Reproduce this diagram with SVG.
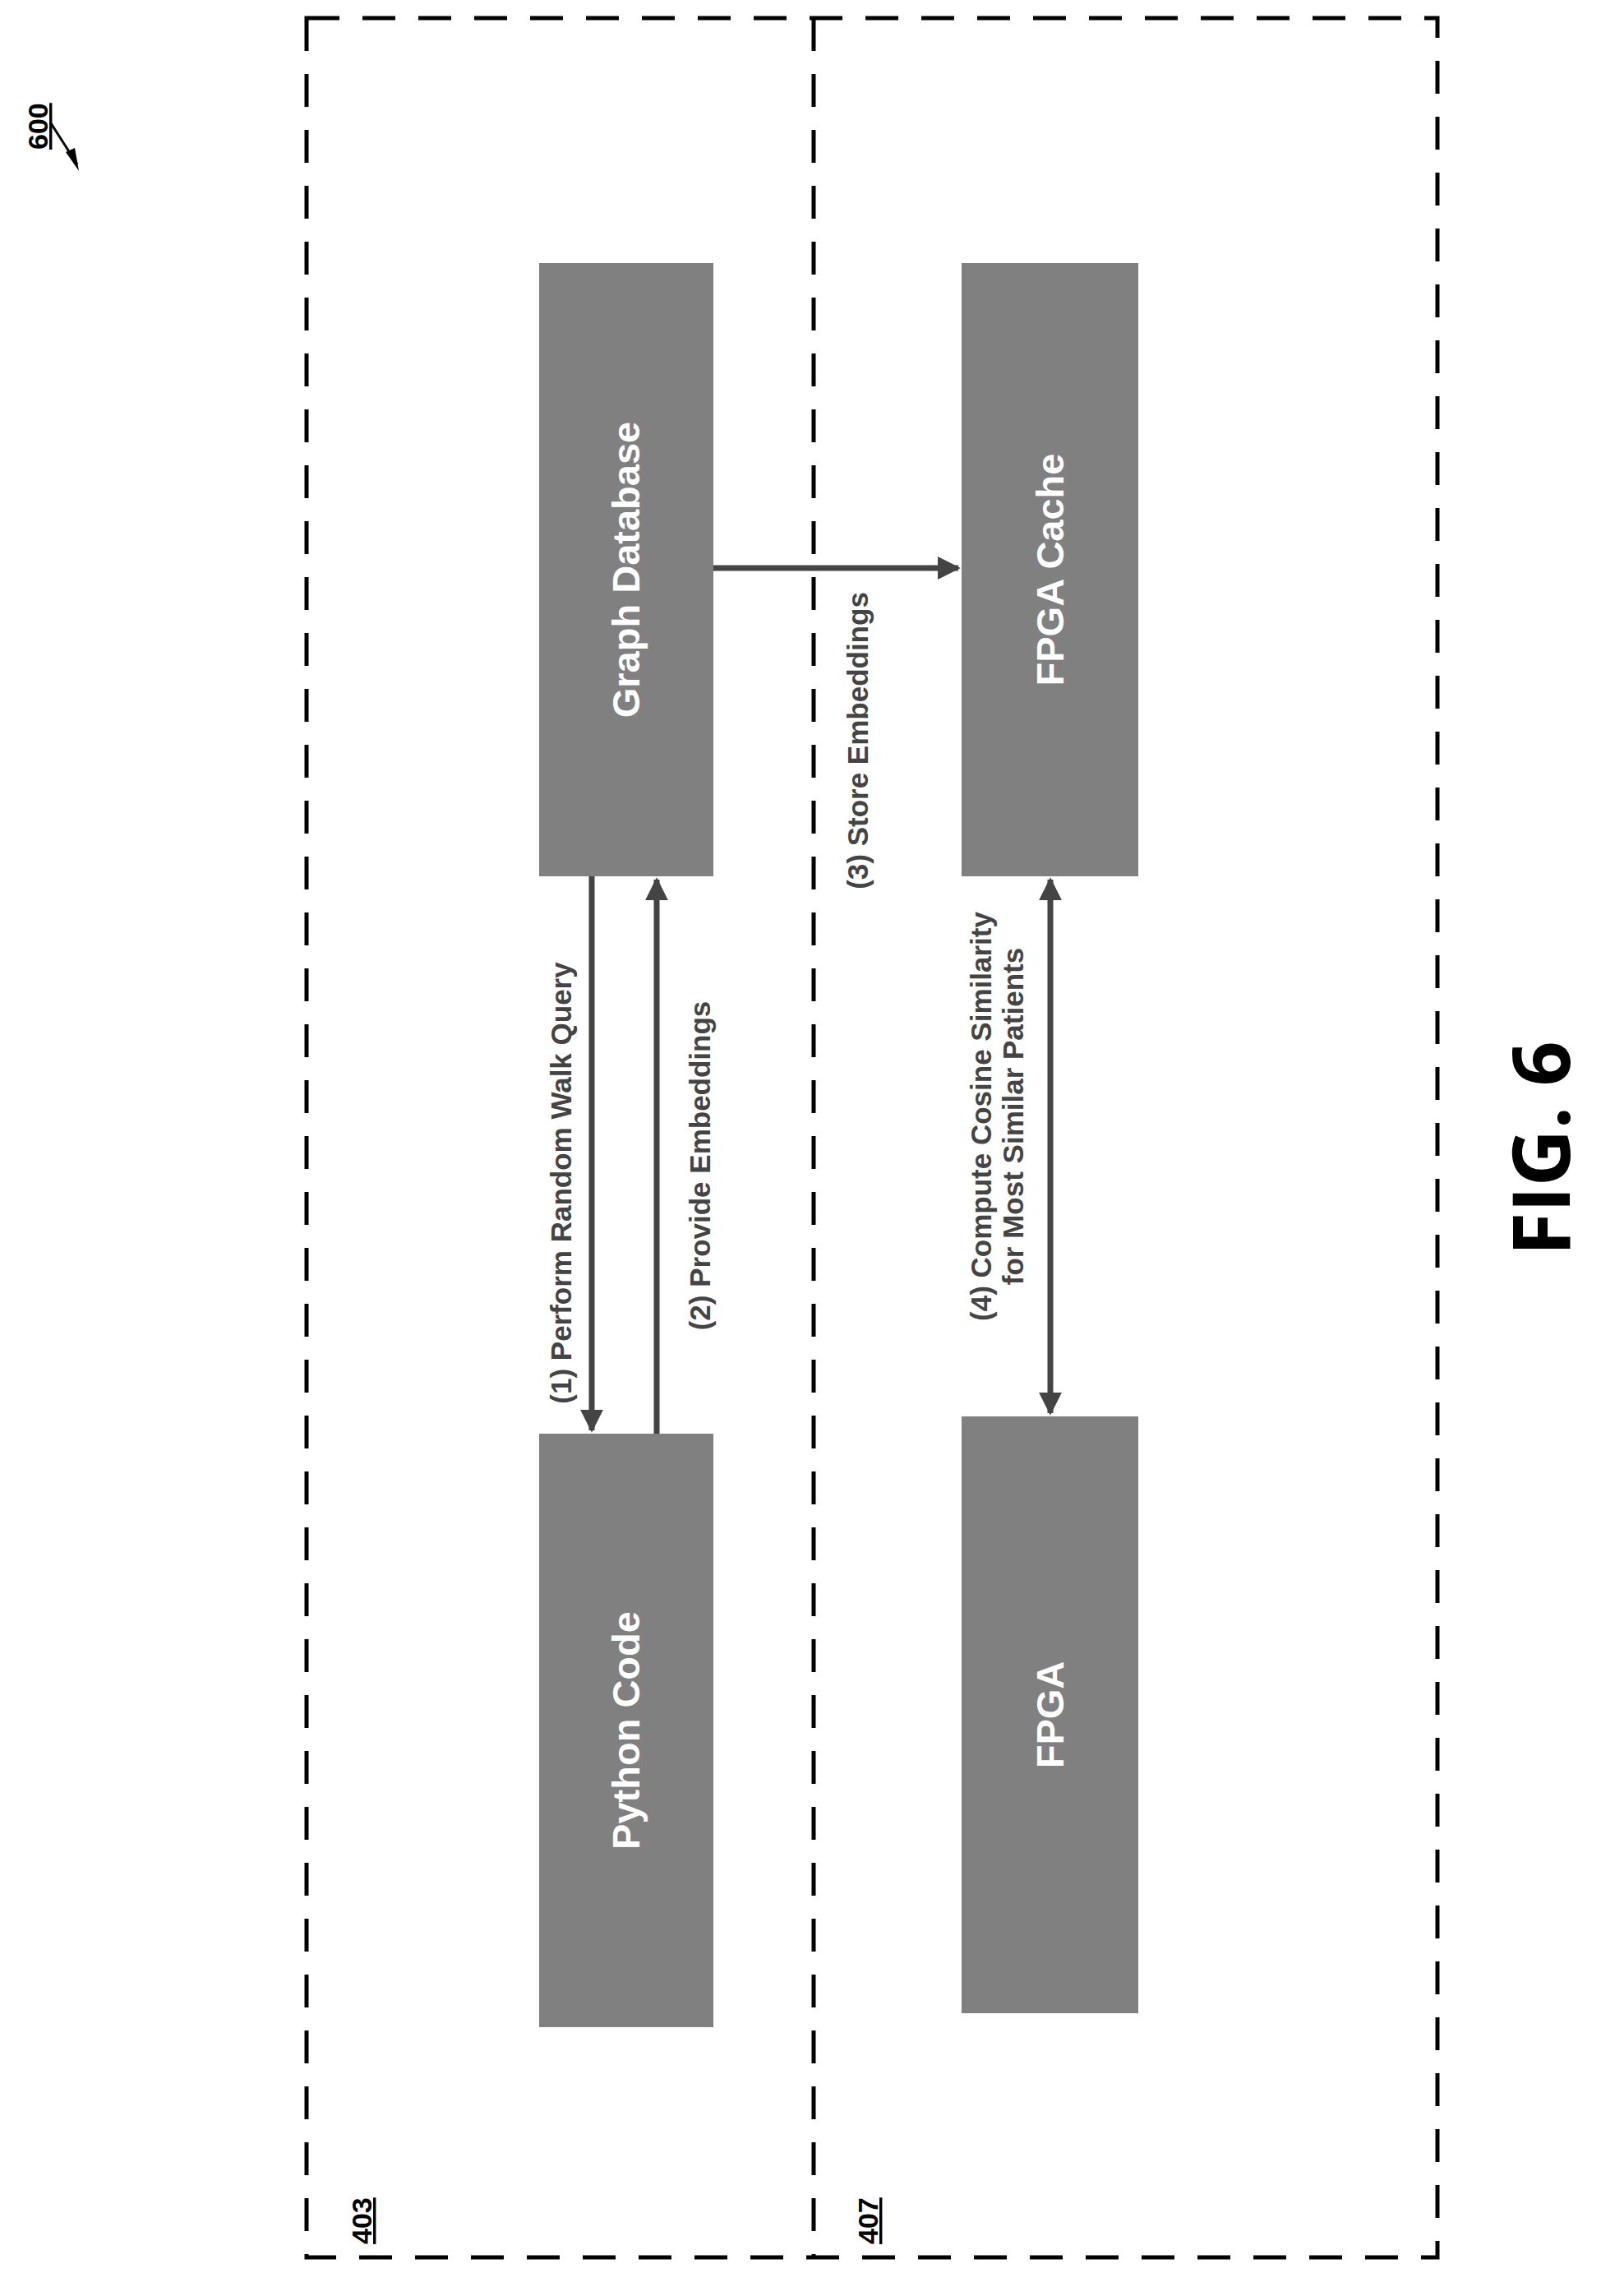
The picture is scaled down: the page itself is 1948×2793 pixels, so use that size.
<svg xmlns="http://www.w3.org/2000/svg" width="1948" height="2793" viewBox="0 0 1948 2793">
<style>
.box{fill:#808080}
.nt{font-family:"Liberation Sans",Arial,sans-serif;font-weight:bold;font-size:47px;fill:#fff;text-anchor:middle}
.lb{font-family:"Liberation Sans",Arial,sans-serif;font-weight:bold;font-size:35px;fill:#444;text-anchor:middle}
.ref{font-family:"Liberation Sans",Arial,sans-serif;font-weight:bold;font-size:34px;fill:#000;text-decoration:underline}
.dash{fill:none;stroke:#000;stroke-width:5;stroke-dasharray:40 28}
.c{stroke:#444;stroke-width:7;fill:none}
</style>
<defs>
<marker id="ah" viewBox="0 0 10 10" refX="9" refY="5" markerWidth="4" markerHeight="4" orient="auto-start-reverse"><path d="M0,0L10,5L0,10z" fill="#444"/></marker>
</defs>
<rect class="dash" x="373" y="22" width="1376" height="2724"/>
<line class="dash" x1="990" y1="22" x2="990" y2="2746"/>
<g id="graphdb"><rect class="box" x="656" y="320" width="212" height="746"/><text class="nt" transform="translate(778,693) rotate(-90)">Graph Database</text></g>
<g id="python"><rect class="box" x="656" y="1744" width="212" height="722"/><text class="nt" transform="translate(778,2105) rotate(-90)">Python Code</text></g>
<g id="fpgacache"><rect class="box" x="1170" y="320" width="215" height="746"/><text class="nt" transform="translate(1294,693) rotate(-90)">FPGA Cache</text></g>
<g id="fpga"><rect class="box" x="1170" y="1723" width="215" height="726"/><text class="nt" transform="translate(1294,2086) rotate(-90)">FPGA</text></g>
<g id="connectors">
<line class="c" x1="720" y1="1066" x2="720" y2="1740" marker-end="url(#ah)"/>
<line class="c" x1="799" y1="1744" x2="799" y2="1070" marker-end="url(#ah)"/>
<line class="c" x1="868" y1="691" x2="1166" y2="691" marker-end="url(#ah)"/>
<line class="c" x1="1278" y1="1070" x2="1278" y2="1719" marker-start="url(#ah)" marker-end="url(#ah)"/>
<text class="lb" transform="translate(695,1439) rotate(-90)">(1) Perform Random Walk Query</text>
<text class="lb" transform="translate(864,1418) rotate(-90)">(2) Provide Embeddings</text>
<text class="lb" transform="translate(1056,901) rotate(-90)">(3) Store Embeddings</text>
<text class="lb" transform="translate(1206,1358) rotate(-90)">(4) Compute Cosine Similarity</text>
<text class="lb" transform="translate(1245,1358) rotate(-90)">for Most Similar Patients</text>
</g>
<text class="ref" transform="translate(452,2730) rotate(-90)">403</text>
<text class="ref" transform="translate(1068,2730) rotate(-90)">407</text>
<text class="ref" transform="translate(58,182) rotate(-90)">600</text>
<line x1="62" y1="150" x2="94" y2="200" stroke="#000" stroke-width="3"/>
<path d="M96,208L80,185L91,180z" fill="#000"/>
<text transform="translate(1910,1397) rotate(-90)" font-family="'Open Sans','Liberation Sans',sans-serif" font-weight="bold" font-size="96" text-anchor="middle">FIG. 6</text>
</svg>
